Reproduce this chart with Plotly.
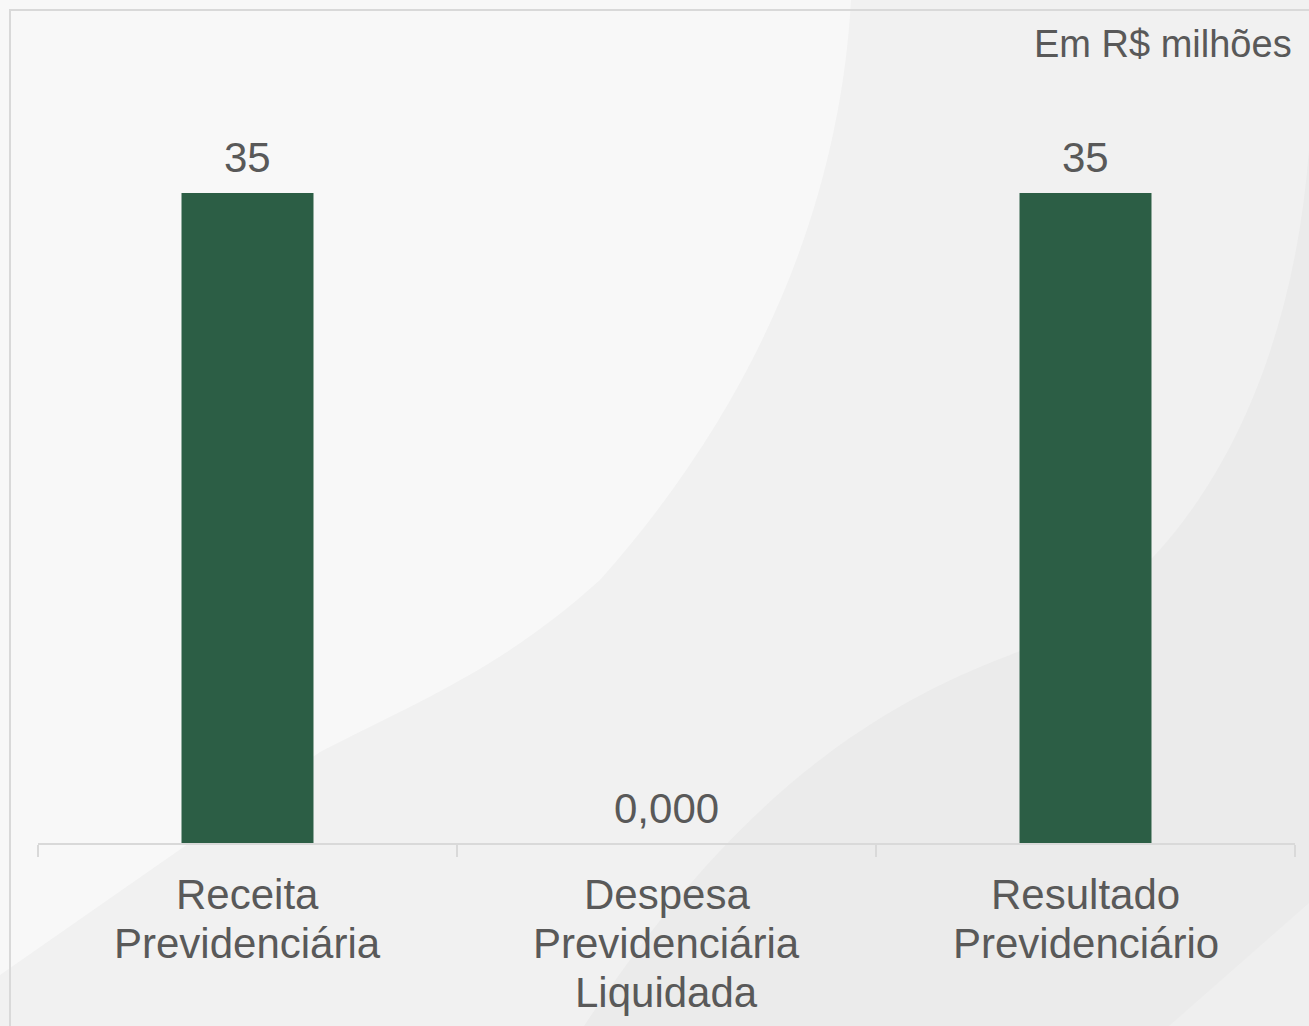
import plotly.graph_objects as go

categories = ["Receita<br>Previdenciária", "Despesa<br>Previdenciária<br>Liquidada", "Resultado<br>Previdenciário"]
values = [35, 0, 35]
value_labels = ["35", "0,000", "35"]
unit_label = "Em R$ milhões"

W, H = 1309, 1026
L, R, T, B = 38, 14, 100, 183
PW, PH = W - L - R, H - T - B
AXIS_Y = H - B

def to_paper(x, y):
    return (x - L) / PW, (AXIS_Y - y) / PH

def path(cmds):
    out = []
    for c in cmds:
        if isinstance(c, str):
            out.append(c)
        else:
            px, py = to_paper(*c)
            out.append(f"{px:.5f},{py:.5f}")
    return " ".join(out)

TEXT = "#595959"
FONT = "Liberation Sans, Arial, sans-serif"

fig = go.Figure()
fig.add_trace(go.Bar(
    x=categories, y=values, width=0.315,
    marker=dict(color="#2C5E45", line=dict(width=0)),
    hoverinfo="skip",
))

for c, v, lab in zip(categories, values, value_labels):
    fig.add_annotation(x=c, y=v, text=lab, showarrow=False, yanchor="middle",
                       yshift=35, font=dict(size=42, color=TEXT, family=FONT))

# category labels, one annotation per line for exact line spacing
for c in categories:
    for i, line in enumerate(c.split("<br>")):
        fig.add_annotation(x=c, y=0, text=line, showarrow=False, yanchor="middle",
                           yshift=-(51 + 49 * i), font=dict(size=42, color=TEXT, family=FONT))

ux, uy = to_paper(1294, 44)
fig.add_annotation(xref="paper", yref="paper", x=ux, y=uy,
                   text=unit_label, showarrow=False, xanchor="right", yanchor="middle",
                   font=dict(size=38, color=TEXT, family=FONT))

shapes = [
    dict(type="path", xref="paper", yref="paper", layer="below", line=dict(width=0),
         fillcolor="#F8F8F8",
         path=path(["M", (0, 0), "L", (851, 0), "C", (840, 200), (760, 400), (600, 580),
                    "C", (500, 670), (420, 700), (320, 752), "L", (0, 975), "Z"])),
    dict(type="path", xref="paper", yref="paper", layer="below", line=dict(width=0),
         fillcolor="#EBEBEB",
         path=path(["M", (1309, 150), "C", (1290, 400), (1180, 590), (1010, 655),
                    "C", (850, 715), (720, 820), (584, 1026), "L", (1309, 1026), "Z"])),
    dict(type="path", xref="paper", yref="paper", layer="below", line=dict(width=0),
         fillcolor="#EFEFEF",
         path=path(["M", (1309, 903), "L", (1169, 1026), "L", (1309, 1026), "Z"])),
    dict(type="path", xref="paper", yref="paper", layer="below",
         line=dict(width=2, color="#D9D9D9"),
         path=path(["M", (10, 1026), "L", (10, 10), "L", (1309, 10)])),
]

fig.update_layout(
    width=W, height=H,
    margin=dict(l=L, r=R, t=T, b=B),
    paper_bgcolor="#F1F1F1", plot_bgcolor="rgba(0,0,0,0)",
    showlegend=False, shapes=shapes,
    font=dict(family=FONT, color=TEXT),
    xaxis=dict(showline=True, linecolor="#D9D9D9", linewidth=2, ticks="outside",
               tickson="boundaries", ticklen=12, tickcolor="#D9D9D9", tickwidth=2,
               showgrid=False, showticklabels=False, fixedrange=True),
    yaxis=dict(visible=False, range=[0, 40], fixedrange=True),
)

fig.write_html("out.html", config={"displayModeBar": False},
               post_script="document.body.style.margin='0';document.body.style.overflow='hidden';document.body.style.background='#F1F1F1';")
